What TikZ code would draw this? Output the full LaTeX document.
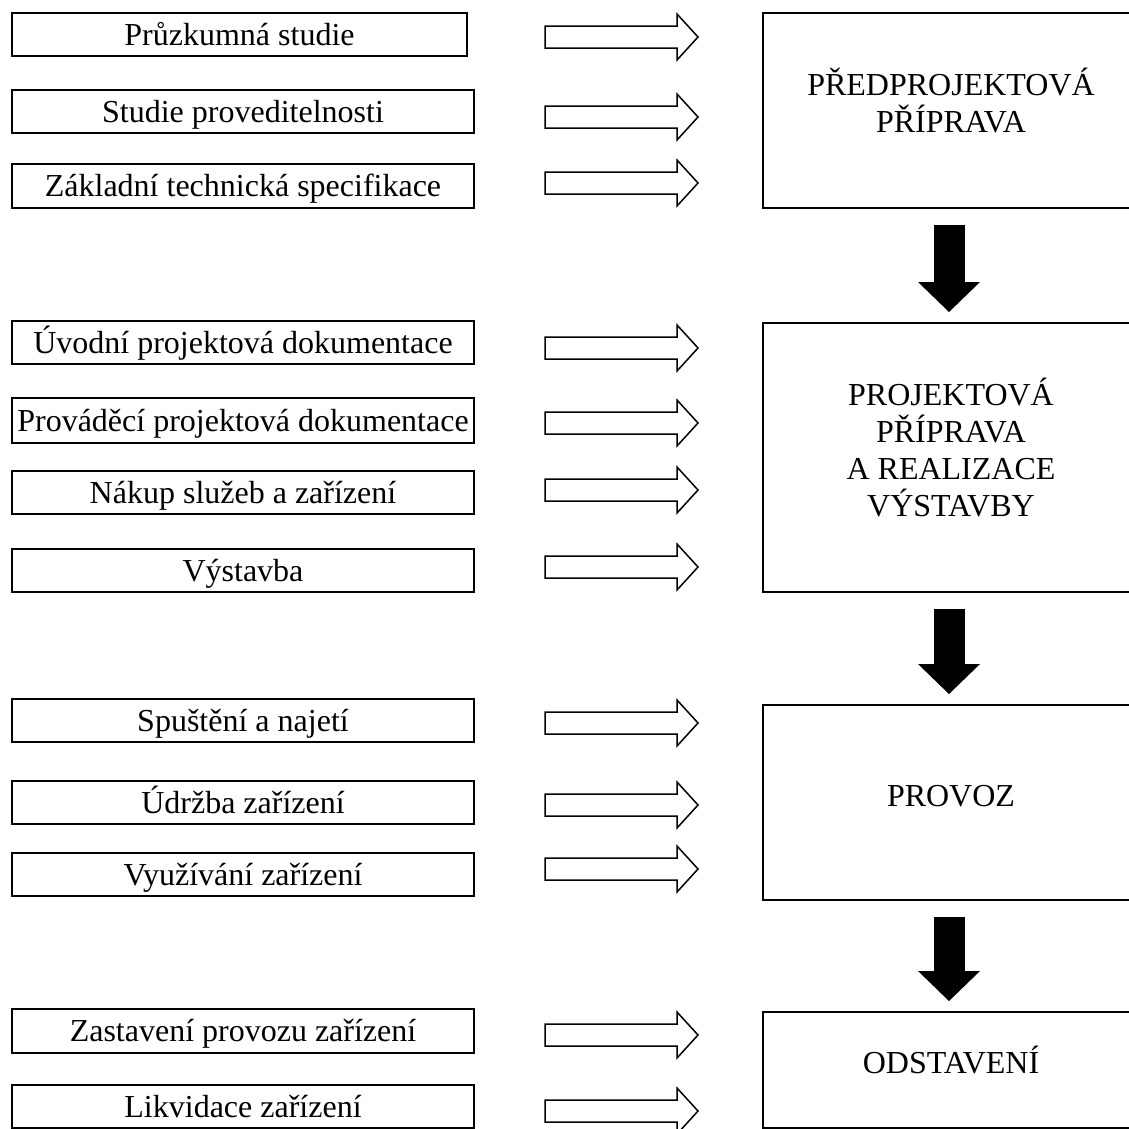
\documentclass[tikz,border=0pt]{standalone}
\usepackage{fontspec}
\setmainfont{Liberation Serif}
\usetikzlibrary{arrows.meta}

\begin{document}
\begin{tikzpicture}
  [x=1pt,y=-1pt,
   every node/.style={font=\fontsize{32}{37}\selectfont},
   task/.style={draw,line width=2pt,anchor=north west,minimum width=462pt,
     minimum height=43pt,text height=23pt,text depth=2pt,inner sep=0pt},
   phase/.style={draw,line width=2pt,anchor=north west,minimum width=376pt,
     align=center,text depth=20pt},
   flow/.style={line width=31pt,-{Triangle[width=62pt,length=30pt,line width=0pt]}},
   inarrow/.pic={\draw[line width=1.5pt,line join=miter]
     (0,-11) -- (132,-11) -- (132,-23) -- (153,0) -- (132,23) -- (132,11) -- (0,11) -- cycle;}]

  \useasboundingbox (0,0) rectangle (1129,1128);
  \clip (0,0) rectangle (1129,1128);

  % activities
  \node[task,minimum width=455pt] (ps) at (11,12) {Průzkumná studie};
  \node[task] (sp) at (11,89) {Studie proveditelnosti};
  \node[task,minimum height=44pt] (zt) at (11,163) {Základní technická specifikace};
  \node[task] (up) at (11,320) {Úvodní projektová dokumentace};
  \node[task,minimum height=45pt] (pd) at (11,397) {Prováděcí projektová dokumentace};
  \node[task] (ns) at (11,470) {Nákup služeb a zařízení};
  \node[task] (vy) at (11,548) {Výstavba};
  \node[task] (sn) at (11,698) {Spuštění a najetí};
  \node[task] (uz) at (11,780) {Údržba zařízení};
  \node[task] (vz) at (11,852) {Využívání zařízení};
  \node[task,minimum height=44pt] (zp) at (11,1008) {Zastavení provozu zařízení};
  \node[task] (lz) at (11,1084) {Likvidace zařízení};

  % phases
  \node[phase,minimum height=195pt] (pp) at (762,12) {PŘEDPROJEKTOVÁ\\PŘÍPRAVA};
  \node[phase,minimum height=269pt] (pr) at (762,322) {PROJEKTOVÁ\\PŘÍPRAVA\\A REALIZACE\\VÝSTAVBY};
  \node[phase,minimum height=195pt,text height=28pt] (pv) at (762,704) {PROVOZ};
  \node[phase,minimum height=116pt] (od) at (762,1011) {ODSTAVENÍ};

  \foreach \y in {37,117,183,348,423,490,567,723,805,869,1035,1111}
    \pic at (545,\y) {inarrow};

  \foreach \from/\to in {pp/pr,pr/pv,pv/od}
    \draw[flow] ([xshift=-2pt,yshift=-16pt]\from.south) -- ([xshift=-2pt,yshift=10pt]\to.north);

\end{tikzpicture}
\end{document}
